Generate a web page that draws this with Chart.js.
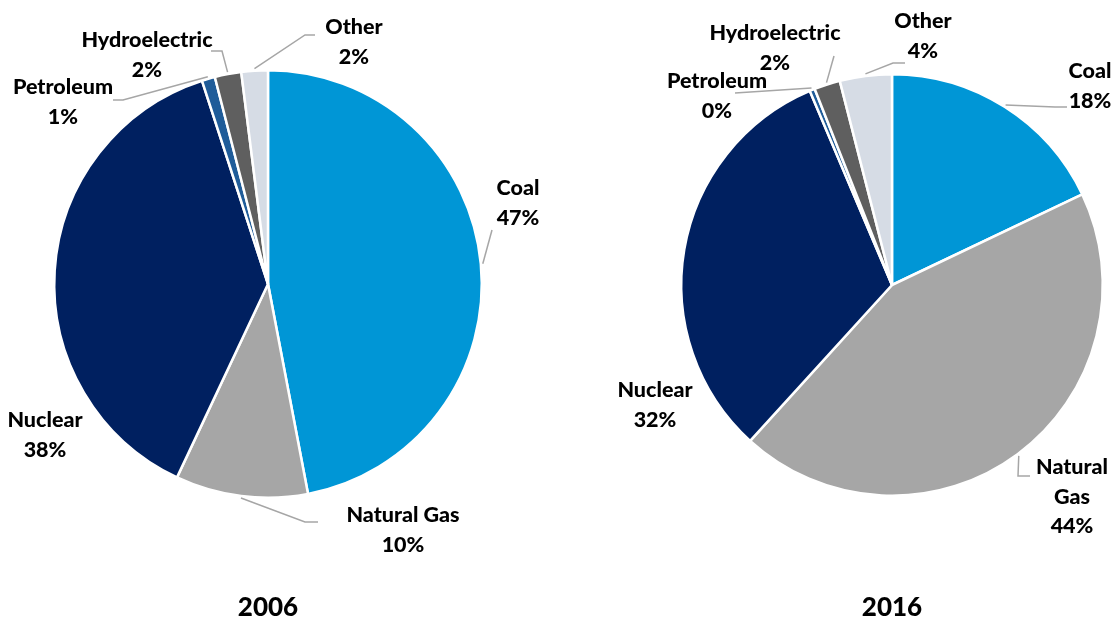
<!DOCTYPE html>
<html>
<head>
<meta charset="utf-8">
<script src="https://cdn.jsdelivr.net/npm/chart.js@4"></script>
<style>
  html, body { margin: 0; padding: 0; background: #fff; }
  #wrap { position: relative; width: 1118px; height: 635px; }
  #wrap canvas { position: absolute; left: 0; top: 0; }
</style>
</head>
<body>
<div id="wrap">
  <canvas id="pie2006" width="1118" height="635"></canvas>
  <canvas id="pie2016" width="1118" height="635"></canvas>
</div>
<script>
// data
const categories = ['Coal', 'Natural Gas', 'Nuclear', 'Petroleum', 'Hydroelectric', 'Other'];
const share2006 = [47, 10, 38, 1, 2, 2];
const share2016 = [18, 44, 32, 0.4, 2, 4];
const colors = ['#0096D6', '#A6A6A6', '#002060', '#1F5C99', '#5F5F5F', '#D6DCE5'];

const FONT = 'Lato, "Open Sans", sans-serif';

// label layout: text block center + leader line points (after the arc edge point)
const labels2006 = [
    { x: 518, y: 203, line: [[492, 230]] },
    { x: 403, y: 530, line: [[305, 522], [318, 522]] },
    { x: 45, y: 435, line: null },
    { x: 63, y: 102, line: [[123, 100], [113, 100]] },
    { x: 147, y: 55, line: [[222, 51], [211, 51]] },
    { x: 354, y: 42, line: [[305, 35], [315, 35]] }
];
const labels2016 = [
    { x: 1090, y: 86, line: [[1055, 107], [1067, 107]] },
    { x: 1072, y: 497, wrap: true, line: [[1018, 476], [1030, 476]] },
    { x: 655, y: 405, line: null },
    { x: 717, y: 96, line: [[735, 93]] },
    { x: 775, y: 48, line: [[834, 56]] },
    { x: 923, y: 36, line: [[893, 63], [905, 63]] }
];

const pieLabels = {
    id: 'pieLabels',
    afterDatasetsDraw(chart, args, opts) {
        const ctx = chart.ctx;
        const meta = chart.getDatasetMeta(0);
        const values = chart.data.datasets[0].data;
        ctx.save();
        meta.data.forEach((arc, i) => {
            const lab = opts.items[i];
            const mid = (arc.startAngle + arc.endAngle) / 2;
            if (lab.line) {
                const r = arc.outerRadius + 2;
                ctx.beginPath();
                ctx.moveTo(arc.x + Math.cos(mid) * r, arc.y + Math.sin(mid) * r);
                lab.line.forEach(p => ctx.lineTo(p[0], p[1]));
                ctx.strokeStyle = '#A6A6A6';
                ctx.lineWidth = 1.5;
                ctx.stroke();
            }
            let lines = lab.wrap ? chart.data.labels[i].split(' ') : [chart.data.labels[i]];
            lines.push(Math.round(values[i]) + '%');
            const lh = 29.5;
            ctx.font = '900 21.5px ' + FONT;
            ctx.fillStyle = '#000';
            ctx.textAlign = 'center';
            ctx.textBaseline = 'middle';
            const top = lab.y - (lines.length - 1) * lh / 2;
            lines.forEach((t, k) => ctx.fillText(t, lab.x, top + k * lh));
        });
        // year under the pie
        const a = meta.data[0];
        ctx.font = '900 26px ' + FONT;
        ctx.fillText(opts.year, a.x, 608);
        ctx.restore();
    }
};

function makePie(id, values, year, items, padding) {
    return new Chart(document.getElementById(id), {
        type: 'pie',
        data: {
            labels: categories,
            datasets: [{
                data: values,
                backgroundColor: colors,
                borderColor: '#ffffff',
                borderWidth: 2.5
            }]
        },
        options: {
            responsive: false,
            animation: false,
            layout: { padding: padding },
            plugins: {
                legend: { display: false },
                tooltip: { enabled: false },
                pieLabels: { year: year, items: items }
            }
        },
        plugins: [pieLabels]
    });
}

makePie('pie2006', share2006, '2006', labels2006, { left: 53, right: 635, top: 69, bottom: 136 });
makePie('pie2016', share2016, '2016', labels2016, { left: 680, right: 14, top: 73, bottom: 138 });
</script>
</body>
</html>
